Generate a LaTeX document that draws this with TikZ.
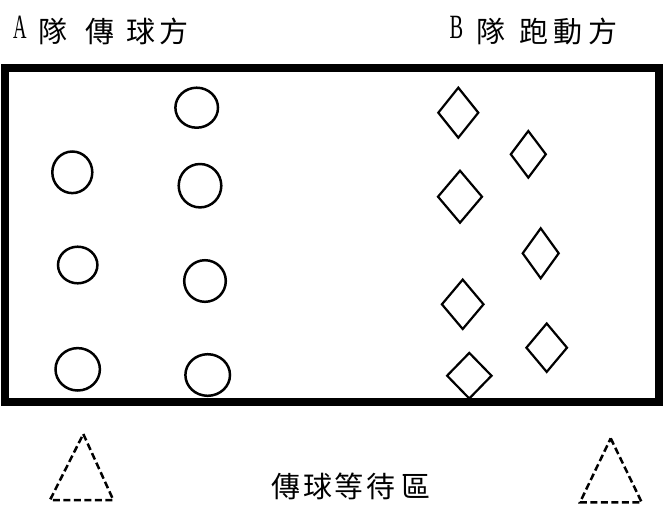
\documentclass[tikz,border=0pt]{standalone}
\usepackage{fontspec}
\setmainfont{Liberation Serif}
\newfontfamily\cjk{Noto Sans CJK TC}
\begin{document}
\begin{tikzpicture}[x=1pt,y=-1pt,
  cj/.style={inner sep=0pt,anchor=base,font=\cjk\fontsize{29}{29}\selectfont},
  lat/.style={inner sep=0pt,anchor=base,font=\fontsize{34}{34}\selectfont},
  ball/.style={line width=2.5pt},
  dia/.style={line width=2.2pt,line join=miter},
  cone/.style={line width=2.5pt,dash pattern=on 7pt off 3.5pt},
  court/.style={line width=8pt}]
\useasboundingbox (0,0) rectangle (663,507);
% headers
\node[lat] (A) at (20,38.5) {\scalebox{0.55}[1]{A}};
\foreach \c/\x [count=\i] in {隊/52.5,傳/100,球/140.5,方/174}
  \node[cj] (a\i) at (\x,42.5) {\c};
\node[lat] (B) at (456.5,38.5) {\scalebox{0.6}[1]{B}};
\foreach \c/\x [count=\i] in {隊/491,跑/533.5,動/567.5,方/602.5}
  \node[cj] (b\i) at (\x,42.5) {\c};
% court
\draw[court] (4.5,67.5) rectangle (659,401.5);
% team A circles
\foreach \x/\y/\rx/\ry in {196.7/107.7/21.3/20, 72.3/172.3/20/20.8, 200/185.7/21.3/21.7,
  77.7/265/19.7/18.3, 205/281/20.8/20.8, 77.7/369.3/22.2/21.2, 207.7/375/22.3/20.8}
  \draw[ball] (\x,\y) ellipse [x radius=\rx, y radius=\ry];
% team B diamonds
\foreach \x/\y/\w/\h in {458.3/112.7/20/25, 528.3/154.3/17.5/23.3, 460/196.7/22/26,
  540.7/253.3/18/25, 462.7/304.3/20.8/24.7, 546.7/347.7/20.3/24.2, 469.3/375.7/22.2/22.8}
  \draw[dia] (\x,\y) +(0,-\h) -- +(\w,0) -- +(0,\h) -- +(-\w,0) -- cycle;
% waiting cones
\draw[cone] (83.3,434) -- (113.3,500) -- (50,500) -- cycle;
\draw[cone] (610.7,438.3) -- (641.7,502.3) -- (580,502.3) -- cycle;
% waiting area label
\foreach \c/\x [count=\i] in {傳/285.8,球/317.5,等/349,待/380.5,區/416}
  \node[cj] (w\i) at (\x,497) {\c};
\end{tikzpicture}
\end{document}
